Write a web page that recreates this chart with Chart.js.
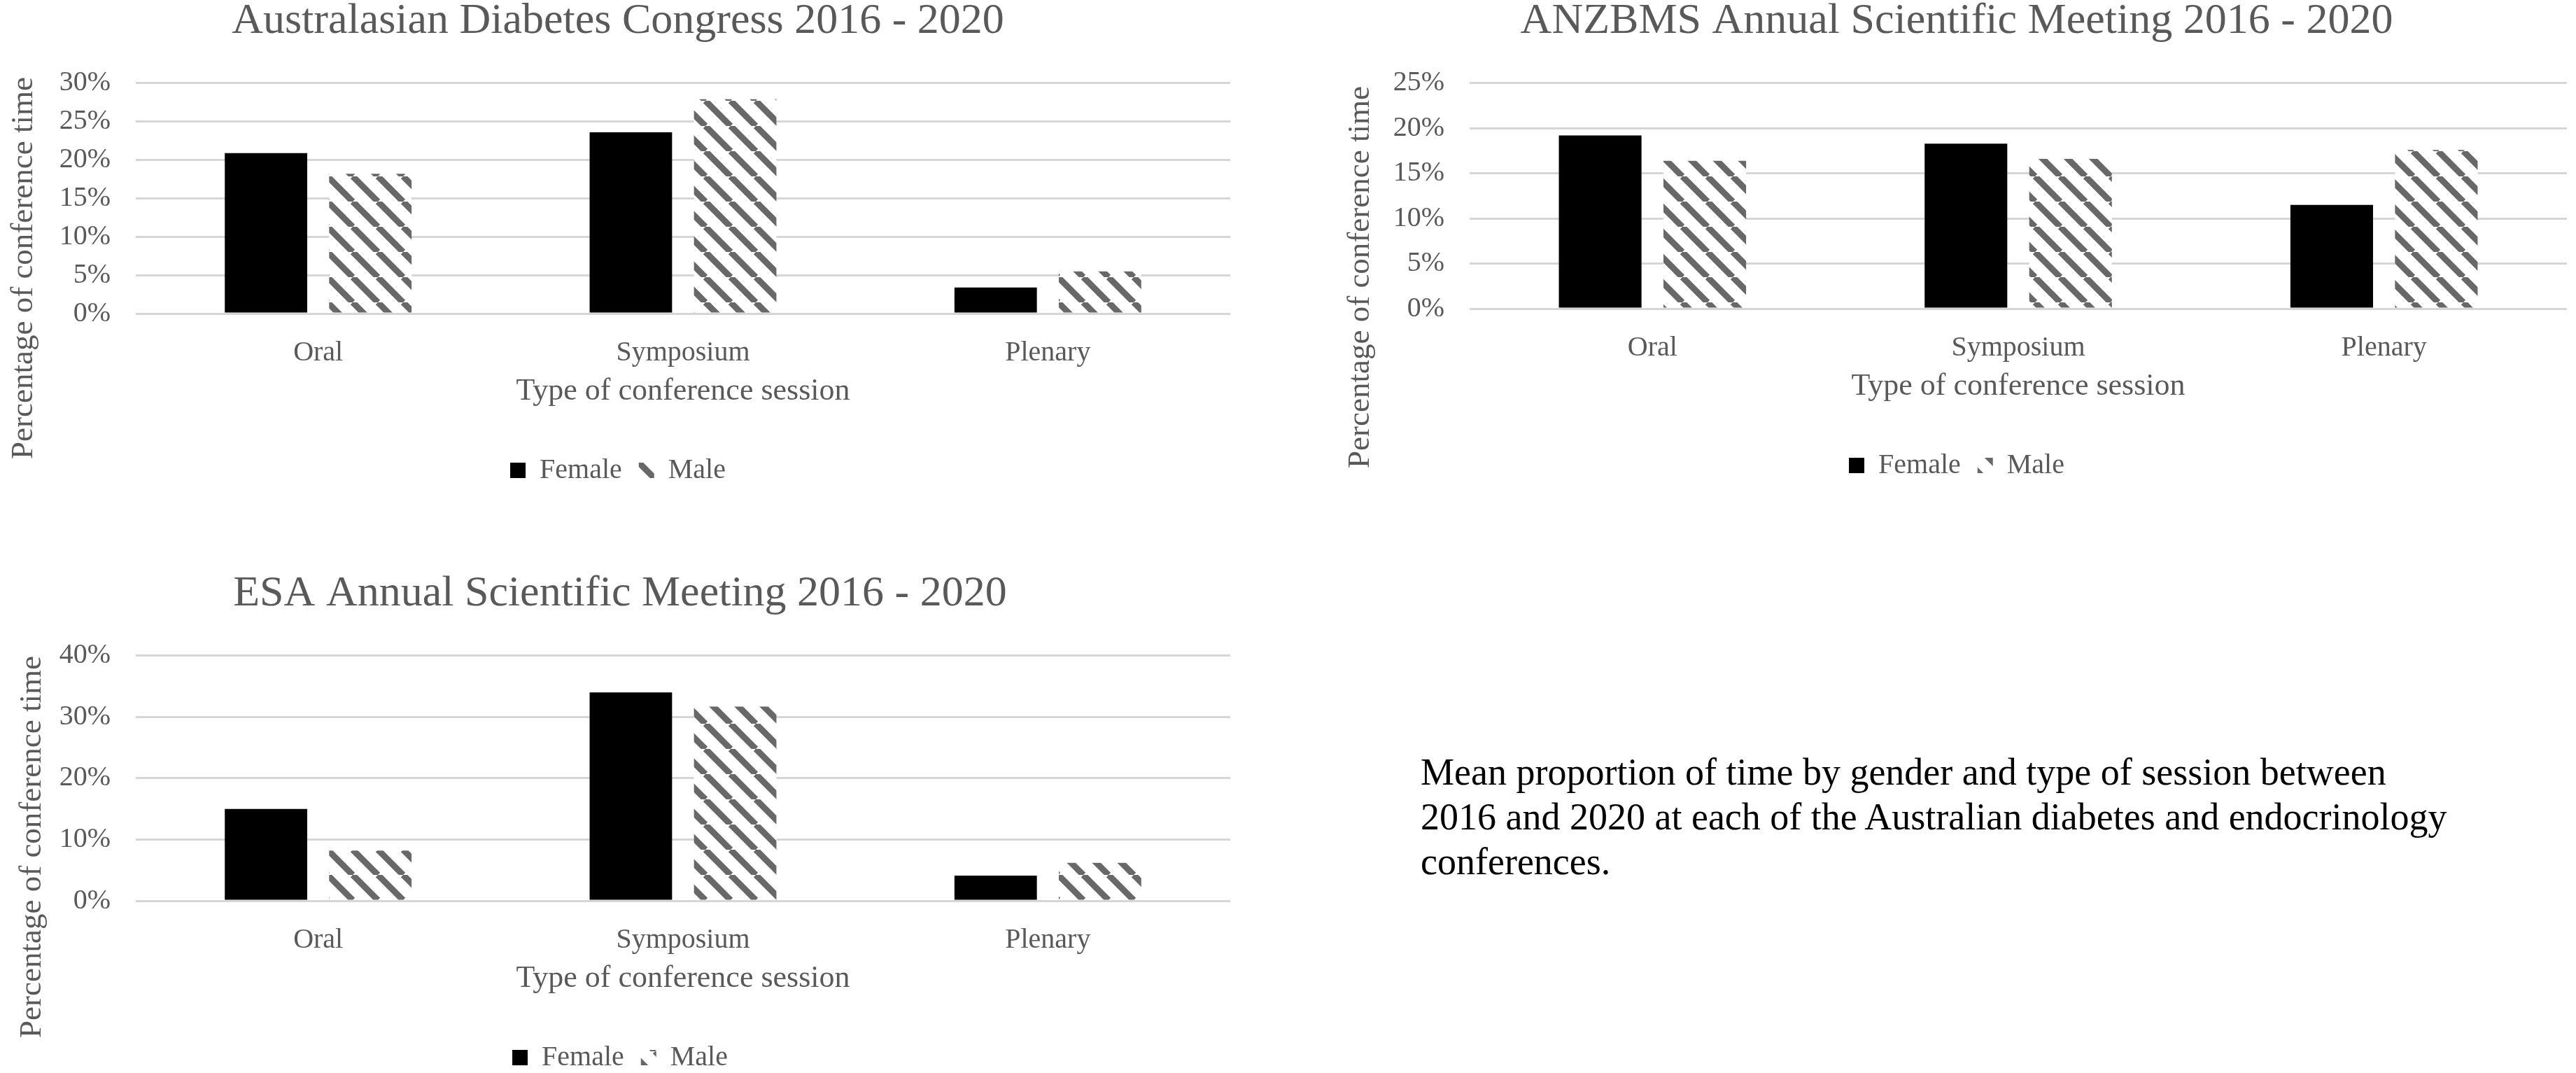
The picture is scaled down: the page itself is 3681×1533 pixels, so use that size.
<!DOCTYPE html>
<html>
<head>
<meta charset="utf-8">
<title>Conference time by gender</title>
<script src="https://cdn.jsdelivr.net/npm/chart.js@4.4.0/dist/chart.umd.min.js"></script>
<style>
  html, body { margin: 0; padding: 0; background: #ffffff; }
  body { width: 3681px; height: 1533px; position: relative; overflow: hidden; }
  canvas { position: absolute; }
  #note {
    position: absolute;
    left: 2030px;
    top: 1071px;
    font-family: 'Liberation Serif', 'Times New Roman', serif;
    font-size: 54px;
    line-height: 64px;
    color: #000000;
    white-space: nowrap;
  }
</style>
</head>
<body>
<canvas id="adc" width="1758" height="720" style="left:0px;top:0px"></canvas>
<canvas id="anzbms" width="1768" height="713" style="left:1900px;top:0px"></canvas>
<canvas id="esa" width="1758" height="724" style="left:0px;top:818px"></canvas>
<div id="note">Mean proportion of time by gender and type of session between<br>2016 and 2020 at each of the Australian diabetes and endocrinology<br>conferences.</div>
<script>
const categories = ['Oral', 'Symposium', 'Plenary'];
const seriesNames = ['Female', 'Male'];

// Australasian Diabetes Congress
const adcFemale = [20.9, 23.6, 3.4];
const adcMale = [18.2, 27.9, 5.5];
const adcTicks = [0, 5, 10, 15, 20, 25, 30];

// ANZBMS Annual Scientific Meeting
const anzbmsFemale = [19.2, 18.3, 11.5];
const anzbmsMale = [16.4, 16.6, 17.6];
const anzbmsTicks = [0, 5, 10, 15, 20, 25];

// ESA Annual Scientific Meeting
const esaFemale = [15.0, 34.0, 4.1];
const esaMale = [8.2, 31.7, 6.2];
const esaTicks = [0, 10, 20, 30, 40];

const FONT = "'Liberation Serif', 'Times New Roman', serif";
const TEXT = '#595959';

// wide downward diagonal hatch for the male bars
function makeHatch(ctx) {
  const size = 36;
  const tile = document.createElement('canvas');
  tile.width = size;
  tile.height = size;
  const g = tile.getContext('2d');
  g.fillStyle = '#ffffff';
  g.fillRect(0, 0, size, size);
  g.strokeStyle = '#686868';
  g.lineWidth = 9;
  g.beginPath();
  [-1, 0, 1].forEach(k => {
    g.moveTo(k * size, 0);
    g.lineTo(k * size + size, size);
  });
  g.stroke();
  return ctx.createPattern(tile, 'repeat');
}

// y axis title drawn where Excel put it
const yTitlePlugin = {
  id: 'yTitle',
  afterDraw(chart, args, opts) {
    const ctx = chart.ctx;
    ctx.save();
    ctx.translate(opts.x, opts.y);
    ctx.rotate(-Math.PI / 2);
    ctx.font = '45px ' + FONT;
    ctx.fillStyle = TEXT;
    ctx.textAlign = 'center';
    ctx.textBaseline = 'middle';
    ctx.fillText(opts.text, 0, 0);
    ctx.restore();
  }
};

function drawChart(id, title, female, male, ticks, box) {
  const ctx = document.getElementById(id).getContext('2d');
  new Chart(ctx, {
    type: 'bar',
    data: {
      labels: categories,
      datasets: [
        {
          label: seriesNames[0],
          data: female,
          backgroundColor: '#000000',
          borderWidth: 0,
          categoryPercentage: 0.572,
          barPercentage: 0.79
        },
        {
          label: seriesNames[1],
          data: male,
          backgroundColor: makeHatch(ctx),
          borderWidth: 0,
          categoryPercentage: 0.572,
          barPercentage: 0.79
        }
      ]
    },
    options: {
      responsive: false,
      animation: false,
      devicePixelRatio: 1,
      layout: {
        padding: { left: box.padLeft, right: 0, top: 0, bottom: box.padBottom }
      },
      plugins: {
        title: {
          display: true,
          text: title,
          color: TEXT,
          font: { family: FONT, size: 62, weight: 'normal', lineHeight: 1 },
          padding: { top: 0, bottom: 56.8 }
        },
        legend: {
          position: 'bottom',
          labels: {
            color: TEXT,
            font: { family: FONT, size: 40 },
            boxWidth: 22,
            boxHeight: 22,
            padding: 24
          }
        },
        tooltip: { enabled: false },
        yTitle: { text: 'Percentage of conference time', x: box.yTitleX, y: box.yTitleY }
      },
      scales: {
        x: {
          grid: { display: false },
          border: { display: false },
          ticks: { color: TEXT, font: { family: FONT, size: 40 }, padding: 24 },
          title: {
            display: true,
            text: 'Type of conference session',
            color: TEXT,
            font: { family: FONT, size: 44 },
            padding: { top: 0, bottom: 42 }
          },
          afterFit: scale => { scale.height = 180; }
        },
        y: {
          min: 0,
          max: ticks[ticks.length - 1],
          grid: { color: '#d6d6d6', lineWidth: 3, drawTicks: false },
          border: { display: false },
          afterBuildTicks: scale => { scale.ticks = ticks.map(v => ({ value: v })); },
          ticks: {
            autoSkip: false,
            color: TEXT,
            font: { family: FONT, size: 40 },
            padding: 36,
            callback: v => v + '%'
          },
          afterFit: scale => { scale.width = box.axisWidth; }
        }
      }
    },
    plugins: [yTitlePlugin]
  });
}

drawChart('adc', 'Australasian Diabetes Congress 2016 - 2020', adcFemale, adcMale, adcTicks,
  { padLeft: 8, padBottom: 18, axisWidth: 186, yTitleX: 34, yTitleY: 383 });
drawChart('anzbms', 'ANZBMS Annual Scientific Meeting 2016 - 2020', anzbmsFemale, anzbmsMale, anzbmsTicks,
  { padLeft: 24, padBottom: 18, axisWidth: 176, yTitleX: 44, yTitleY: 396 });
drawChart('esa', 'ESA Annual Scientific Meeting 2016 - 2020', esaFemale, esaMale, esaTicks,
  { padLeft: 14, padBottom: 1, axisWidth: 180, yTitleX: 46, yTitleY: 392 });
</script>
</body>
</html>
